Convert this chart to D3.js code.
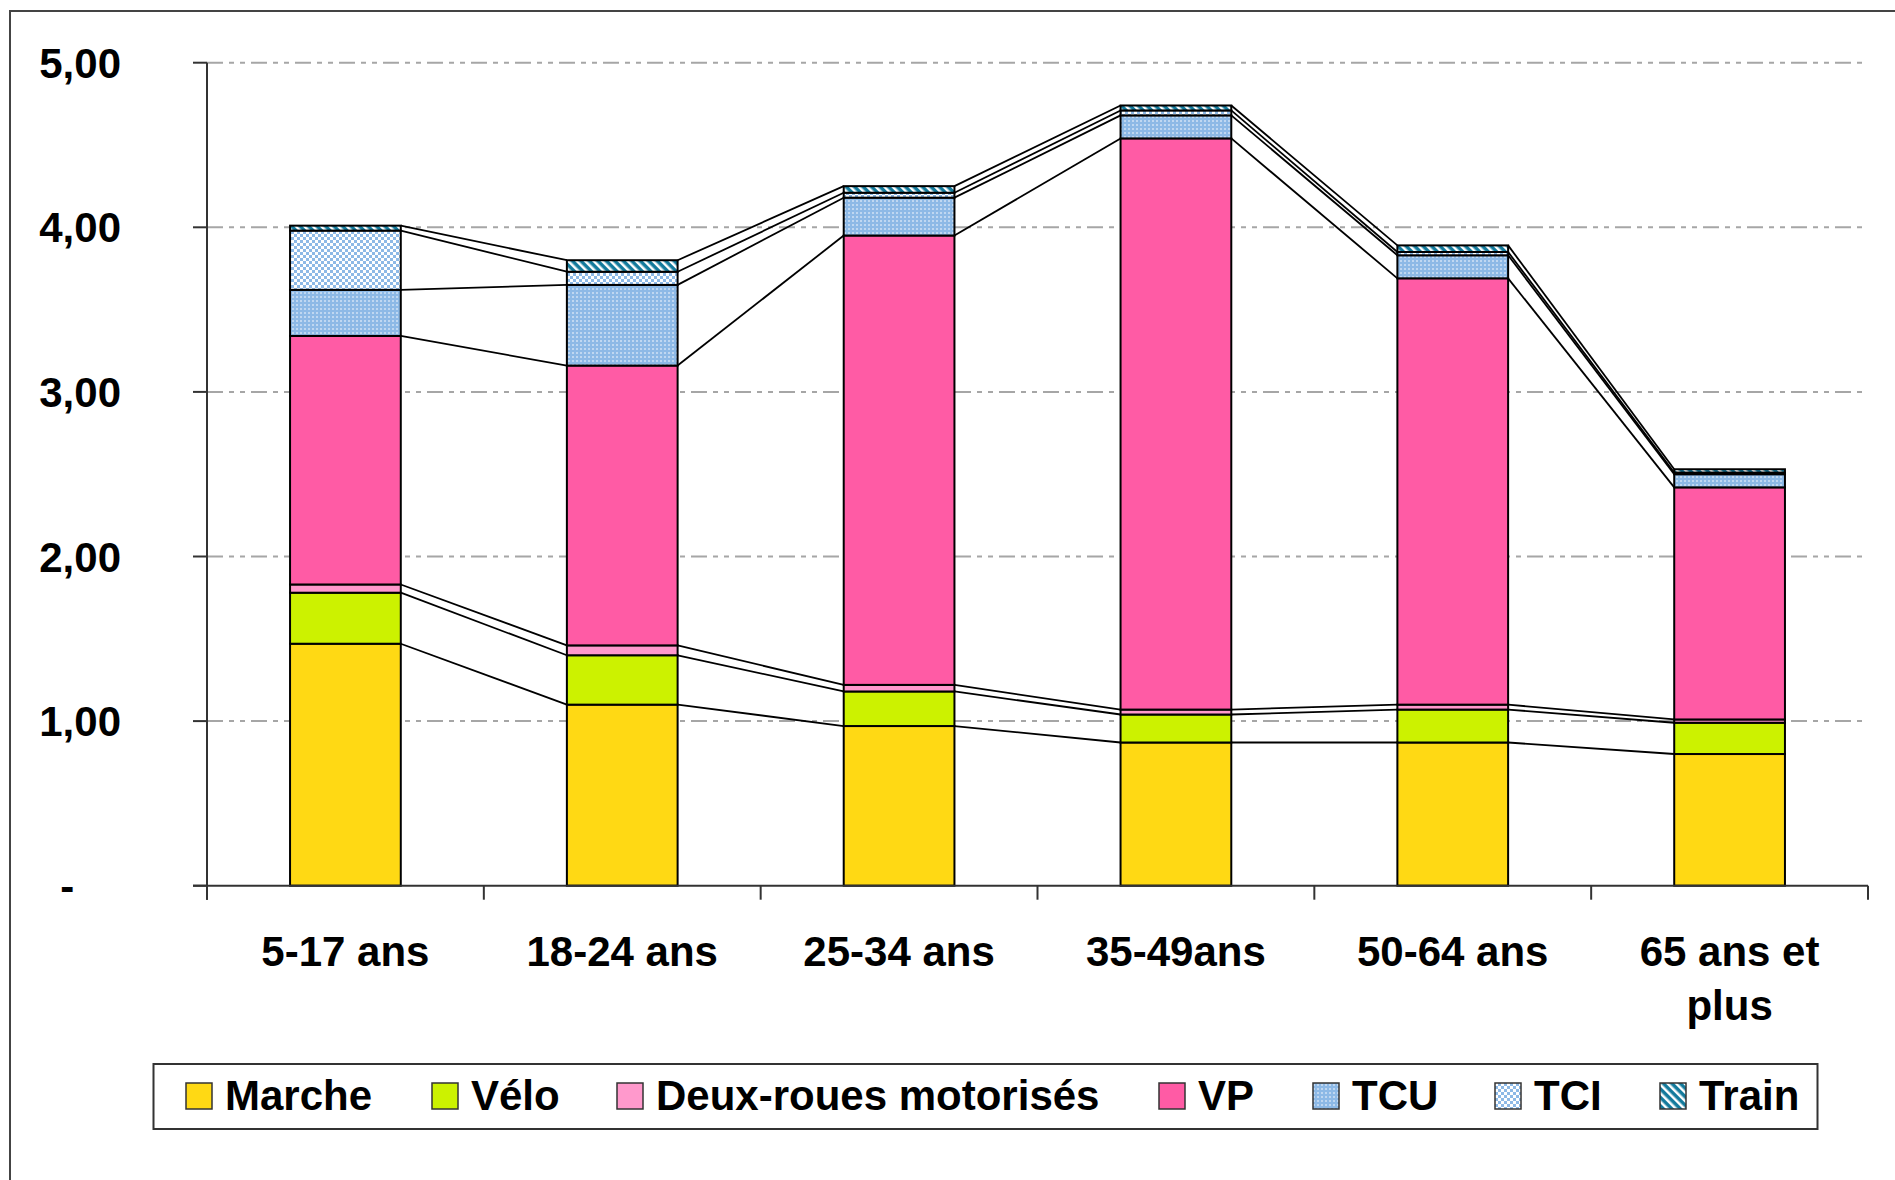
<!DOCTYPE html>
<html>
<head>
<meta charset="utf-8">
<script src="https://cdn.jsdelivr.net/npm/d3@7"></script>
<style>
  body { margin: 0; background: #fff; }
  text { font-family: "Liberation Sans", Arial, sans-serif; font-weight: bold; fill: #000; }
</style>
</head>
<body>
<div id="chart"></div>
<script>
// categories (age groups) and the two-line labels shown under the axis
const categories = ["5-17 ans", "18-24 ans", "25-34 ans", "35-49ans", "50-64 ans", "65 ans et plus"];
const categoryLines = [["5-17 ans"], ["18-24 ans"], ["25-34 ans"], ["35-49ans"], ["50-64 ans"], ["65 ans et", "plus"]];

// trips per person per day, by mode
const marche = [1.47, 1.10, 0.97, 0.87, 0.87, 0.80];
const velo   = [0.31, 0.30, 0.21, 0.17, 0.20, 0.19];
const deuxRM = [0.05, 0.06, 0.04, 0.03, 0.03, 0.02];
const vp     = [1.51, 1.70, 2.73, 3.47, 2.59, 1.41];
const tcu    = [0.28, 0.49, 0.23, 0.14, 0.14, 0.08];
const tci    = [0.36, 0.08, 0.03, 0.03, 0.02, 0.01];
const train  = [0.03, 0.07, 0.04, 0.03, 0.04, 0.02];

const seriesNames = ["Marche", "Vélo", "Deux-roues motorisés", "VP", "TCU", "TCI", "Train"];
const yTicks = [0, 1, 2, 3, 4, 5];

const width = 1895, height = 1180;
const margin = { left: 207, right: 1868, top: 62.7, bottom: 885.7 };
const fontSize = 42;

const svg = d3.select("#chart").append("svg")
    .attr("width", width)
    .attr("height", height);

svg.append("rect").attr("width", width).attr("height", height).attr("fill", "#fff");

// outer frame (runs off the right / bottom of the picture)
svg.append("rect")
    .attr("x", 10).attr("y", 11)
    .attr("width", width).attr("height", height)
    .attr("fill", "none").attr("stroke", "#444").attr("stroke-width", 2);

// fill patterns
const defs = svg.append("defs");

const pTcu = defs.append("pattern").attr("id", "pat-tcu")
    .attr("patternUnits", "userSpaceOnUse").attr("width", 4).attr("height", 4);
pTcu.append("rect").attr("width", 4).attr("height", 4).attr("fill", "#8db9e6");
pTcu.append("circle").attr("cx", 1).attr("cy", 1).attr("r", 0.8).attr("fill", "#fff");

const pTci = defs.append("pattern").attr("id", "pat-tci")
    .attr("patternUnits", "userSpaceOnUse").attr("width", 6).attr("height", 6);
pTci.append("rect").attr("width", 6).attr("height", 6).attr("fill", "#fff");
pTci.append("rect").attr("x", 0).attr("y", 0).attr("width", 3).attr("height", 3).attr("fill", "#8db9e6");
pTci.append("rect").attr("x", 3).attr("y", 3).attr("width", 3).attr("height", 3).attr("fill", "#8db9e6");

const pTrain = defs.append("pattern").attr("id", "pat-train")
    .attr("patternUnits", "userSpaceOnUse").attr("width", 6).attr("height", 6)
    .attr("patternTransform", "rotate(-45)");
pTrain.append("rect").attr("width", 6).attr("height", 6).attr("fill", "#137a9c");
pTrain.append("rect").attr("width", 2.5).attr("height", 6).attr("fill", "#fff");

const fills = ["#ffd914", "#ccf200", "#ff99cc", "#ff5ba5", "url(#pat-tcu)", "url(#pat-tci)", "url(#pat-train)"];

// scales
const x = d3.scaleBand()
    .domain(categories)
    .range([margin.left, margin.right])
    .paddingInner(0.6)
    .paddingOuter(0.3);

const y = d3.scaleLinear()
    .domain([0, 5])
    .range([margin.bottom, margin.top]);

const step = x.step();
const bw = x.bandwidth();

// gridlines
svg.append("g")
    .selectAll("line")
    .data(yTicks.filter(d => d > 0))
    .enter().append("line")
    .attr("x1", margin.left).attr("x2", margin.right)
    .attr("y1", d => y(d)).attr("y2", d => y(d))
    .attr("stroke", "#a6a6a6")
    .attr("stroke-width", 2)
    .attr("stroke-dasharray", "16,6,5,6,5,6");

// stack the data
const rows = categories.map((c, i) => ({
    cat: c,
    Marche: marche[i], "Vélo": velo[i], "Deux-roues motorisés": deuxRM[i],
    VP: vp[i], TCU: tcu[i], TCI: tci[i], Train: train[i]
}));
const stacked = d3.stack().keys(seriesNames)(rows);

// series lines between neighbouring bars
const seriesLines = svg.append("g");
stacked.forEach(layer => {
    for (let i = 0; i < layer.length - 1; i++) {
        seriesLines.append("line")
            .attr("x1", x(categories[i]) + bw)
            .attr("y1", y(layer[i][1]))
            .attr("x2", x(categories[i + 1]))
            .attr("y2", y(layer[i + 1][1]))
            .attr("stroke", "#000")
            .attr("stroke-width", 1.8);
    }
});

// bars
const layers = svg.append("g")
    .selectAll("g")
    .data(stacked)
    .enter().append("g")
    .attr("fill", (d, i) => fills[i]);

layers.selectAll("rect")
    .data(d => d)
    .enter().append("rect")
    .attr("x", d => x(d.data.cat))
    .attr("y", d => y(d[1]))
    .attr("width", bw)
    .attr("height", d => y(d[0]) - y(d[1]))
    .attr("stroke", "#000")
    .attr("stroke-width", 2);

// y axis
const axisG = svg.append("g");
axisG.append("line")
    .attr("x1", margin.left).attr("x2", margin.left)
    .attr("y1", margin.top).attr("y2", margin.bottom + 14)
    .attr("stroke", "#333").attr("stroke-width", 2);
axisG.selectAll("line.ytick")
    .data(yTicks)
    .enter().append("line")
    .attr("class", "ytick")
    .attr("x1", margin.left - 14).attr("x2", margin.left)
    .attr("y1", d => y(d)).attr("y2", d => y(d))
    .attr("stroke", "#333").attr("stroke-width", 2);
axisG.selectAll("text.ylab")
    .data(yTicks)
    .enter().append("text")
    .attr("class", "ylab")
    .attr("x", 121)
    .attr("y", d => y(d))
    .attr("dy", "0.36em")
    .attr("text-anchor", "end")
    .attr("font-size", fontSize)
    .style("white-space", "pre")
    .text(d => d === 0 ? "-    " : d.toFixed(2).replace(".", ","));

// x axis
axisG.append("line")
    .attr("x1", margin.left - 14).attr("x2", margin.right)
    .attr("y1", margin.bottom).attr("y2", margin.bottom)
    .attr("stroke", "#333").attr("stroke-width", 2);
const boundaries = categories.map(c => x(c) - (step - bw) / 2).concat([margin.right]);
axisG.selectAll("line.xtick")
    .data(boundaries)
    .enter().append("line")
    .attr("class", "xtick")
    .attr("x1", d => d).attr("x2", d => d)
    .attr("y1", margin.bottom).attr("y2", margin.bottom + 14)
    .attr("stroke", "#333").attr("stroke-width", 2);

const xLab = axisG.selectAll("text.xlab")
    .data(categories)
    .enter().append("text")
    .attr("class", "xlab")
    .attr("text-anchor", "middle")
    .attr("font-size", fontSize)
    .attr("x", d => x(d) + bw / 2)
    .attr("y", 966);
xLab.selectAll("tspan")
    .data((d, i) => categoryLines[i])
    .enter().append("tspan")
    .attr("x", function () { return d3.select(this.parentNode).attr("x"); })
    .attr("dy", (d, i) => i === 0 ? 0 : 54)
    .text(d => d);

// legend
const legend = svg.append("g");
legend.append("rect")
    .attr("x", 153.5).attr("y", 1064)
    .attr("width", 1664).attr("height", 65)
    .attr("fill", "#fff").attr("stroke", "#333").attr("stroke-width", 2);

const legendX = [186, 432, 617, 1159, 1313, 1495, 1660];
const item = legend.selectAll("g.item")
    .data(seriesNames)
    .enter().append("g")
    .attr("class", "item")
    .attr("transform", (d, i) => `translate(${legendX[i]},0)`);
item.append("rect")
    .attr("x", 0).attr("y", 1083)
    .attr("width", 26).attr("height", 26)
    .attr("fill", (d, i) => fills[i])
    .attr("stroke", "#333").attr("stroke-width", 1.5);
item.append("text")
    .attr("x", 39).attr("y", 1110)
    .attr("font-size", fontSize)
    .text(d => d);
</script>
</body>
</html>
